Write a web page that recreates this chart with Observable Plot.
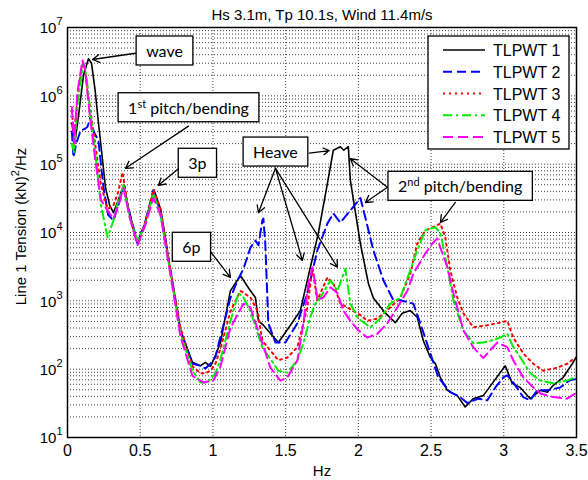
<!DOCTYPE html>
<html><head><meta charset="utf-8">
<script src="https://cdn.jsdelivr.net/npm/d3@7"></script>
<script src="https://cdn.jsdelivr.net/npm/@observablehq/plot@0.6"></script>
<style>
body{margin:0;background:#fff;}
#chart{width:588px;height:480px;}
</style>
</head><body><div id="chart"></div>
<script>
// ---------------- data ----------------
const seriesNames = ["TLPWT 1","TLPWT 2","TLPWT 3","TLPWT 4","TLPWT 5"];

const freq1 = [0.03,0.05,0.08,0.11,0.144,0.165,0.19,0.213,0.24,0.261,0.29,0.316,0.35,0.385,0.43,0.481,0.53,0.57,0.595,0.64,0.708,0.777,0.859,0.914,0.948,0.983,1.017,1.052,1.12,1.189,1.258,1.292,1.313,1.347,1.45,1.533,1.601,1.67,1.725,1.787,1.828,1.876,1.90,1.931,1.945,2.014,2.069,2.103,2.186,2.254,2.302,2.357,2.405,2.447,2.495,2.53,2.564,2.612,2.68,2.735,2.79,2.859,2.921,3.01,3.058,3.113,3.182,3.251,3.30,3.34,3.409,3.471,3.498];
const tension1 = [4e5,2e5,6e5,2e6,3.5e6,3e6,1.2e6,4e5,1.2e5,4.6e4,2.5e4,1.95e4,3e4,4.9e4,1.8e4,7.1e3,1.3e4,2.6e4,4.2e4,2.2e4,2.8e3,370,126,112,126,110,158,245,1400,2350,1400,1120,510,440,245,440,720,3100,9800,5.2e4,1.6e5,1.8e5,1.6e5,1.8e5,5.8e4,6900,1800,1100,660,480,660,720,575,260,148,120,75,49,41,28,37,41,62,112,62,54,37,49,46,58,76,120,150];

const freq2 = [0.03,0.041,0.06,0.09,0.12,0.137,0.158,0.18,0.213,0.247,0.28,0.316,0.35,0.385,0.43,0.481,0.53,0.591,0.64,0.708,0.777,0.859,0.914,0.948,0.983,1.017,1.052,1.12,1.17,1.21,1.258,1.292,1.313,1.34,1.347,1.36,1.375,1.381,1.43,1.498,1.581,1.649,1.718,1.787,1.828,1.876,1.945,1.98,2.014,2.048,2.103,2.172,2.241,2.289,2.378,2.426,2.495,2.55,2.632,2.701,2.749,2.825,2.887,2.942,2.997,3.024,3.065,3.134,3.182,3.23,3.299,3.388,3.45,3.498];
const tension2 = [3e5,1.26e5,2e5,3.1e5,3.3e5,3.5e5,4.9e5,3e5,2.2e5,4.6e4,1.8e4,1.5e4,2.5e4,4.6e4,1.8e4,7.1e3,1.3e4,4.2e4,2e4,2.8e3,370,120,112,102,120,150,300,1100,2000,2950,6000,7600,6500,1.5e4,1.6e4,6900,1020,470,245,245,470,1300,5500,1.35e4,1.9e4,1.4e4,2.1e4,2.6e4,3.2e4,1.66e4,5500,2000,1020,1020,910,470,170,76,46,39,32,37,35,54,76,81,64,39,35,49,49,54,68,72];

const freq3 = [0.03,0.045,0.07,0.103,0.12,0.15,0.19,0.23,0.275,0.316,0.35,0.378,0.40,0.43,0.481,0.53,0.591,0.64,0.708,0.777,0.859,0.914,0.948,0.983,1.017,1.052,1.12,1.189,1.258,1.306,1.34,1.45,1.512,1.581,1.649,1.684,1.718,1.787,1.828,1.876,1.924,2.014,2.062,2.131,2.22,2.289,2.357,2.405,2.46,2.495,2.564,2.598,2.632,2.68,2.722,2.79,2.887,2.976,3.024,3.065,3.134,3.203,3.271,3.368,3.436,3.491];
const tension3 = [6e5,2.5e5,1e6,3.1e6,2.5e6,8e5,2e5,5e4,2.2e4,2.5e4,4e4,7.6e4,4e4,1.6e4,7.1e3,1.3e4,4.2e4,2.2e4,2.8e3,400,110,87,87,95,120,200,700,1400,1120,720,260,135,148,210,800,2950,1020,2200,1800,910,800,620,510,550,800,1120,2500,6900,1.07e4,1.15e4,1.35e4,8500,2800,1120,660,410,440,480,510,290,170,120,95,105,120,148];

const freq4 = [0.03,0.045,0.07,0.11,0.13,0.16,0.19,0.23,0.275,0.316,0.35,0.385,0.43,0.481,0.53,0.591,0.64,0.708,0.777,0.859,0.914,0.962,1.017,1.052,1.12,1.175,1.21,1.258,1.34,1.45,1.512,1.581,1.622,1.67,1.704,1.739,1.808,1.856,1.911,1.945,1.979,2.0,2.082,2.151,2.22,2.289,2.357,2.405,2.46,2.529,2.564,2.612,2.653,2.722,2.79,2.859,2.907,2.976,3.024,3.065,3.113,3.182,3.251,3.34,3.436,3.491];
const tension4 = [2e5,1.5e5,8e5,3e6,2e6,5e5,1.5e5,2.5e4,8.5e3,1.5e4,3e4,4.9e4,1.6e4,7.6e3,1.2e4,3.7e4,1.8e4,2.5e3,330,95,64,64,87,140,500,1300,1120,700,210,95,89,135,240,580,910,1120,2000,1400,2950,910,660,550,410,550,910,1120,2800,5500,1.07e4,1.2e4,9800,3100,1020,370,240,245,260,290,330,210,150,87,68,62,68,76];

const freq5 = [0.03,0.045,0.07,0.103,0.12,0.15,0.19,0.23,0.275,0.316,0.35,0.385,0.43,0.481,0.53,0.591,0.64,0.708,0.777,0.859,0.935,1.003,1.052,1.12,1.21,1.258,1.34,1.395,1.464,1.512,1.581,1.622,1.656,1.684,1.704,1.718,1.759,1.808,1.856,1.897,1.945,2.0,2.062,2.131,2.199,2.268,2.337,2.378,2.46,2.509,2.543,2.564,2.612,2.653,2.722,2.79,2.859,2.907,2.955,3.024,3.065,3.134,3.203,3.251,3.34,3.436,3.491];
const tension5 = [6.8e5,2e5,1.2e6,3.3e6,2.5e6,6e5,1.2e5,3e4,2.1e4,1.6e4,2.5e4,4.5e4,1.6e4,6.5e3,1.2e4,3.2e4,1.8e4,2.4e3,300,80,64,68,110,400,910,800,240,105,68,76,135,470,1800,3100,1800,1020,1120,1580,1300,720,510,370,290,330,470,800,1400,2500,4900,6900,8200,6000,3100,1300,370,210,145,190,245,210,135,76,54,44,39,37,44];

const xTicks = [0,0.5,1,1.5,2,2.5,3,3.5];
const xTickLabels = ["0","0.5","1","1.5","2","2.5","3","3.5"];
const yDecades = [10,100,1e3,1e4,1e5,1e6,1e7];
const yTickLabels = ["10^{1}","10^{2}","10^{3}","10^{4}","10^{5}","10^{6}","10^{7}"];

const titleText = "Hs 3.1m, Tp 10.1s, Wind 11.4m/s";
const xLabel = "Hz";
const yLabel = "Line 1 Tension (kN)^{2}/Hz";

// annotation boxes (anchored in data coordinates)
const annText = ["wave","1^{st} pitch/bending","3p","Heave","6p","2^{nd} pitch/bending"];
const annFreq = [0.667,0.832,0.893,1.43,0.852,2.70];
const annTension = [4.4e6,6.5e5,1e5,1.46e5,5.9e3,4.6e4];
// annotation arrows (tail -> head)
const arrowFreq1 = [0.467,0.832,0.79,1.43,1.43,1.43,1.663,0.976,2.2,2.2,2.667];
const arrowTension1 = [4.2e6,3.6e5,9.6e4,8.7e4,8.7e4,8.7e4,1.45e5,5.5e3,4.6e4,4.6e4,2.75e4];
const arrowFreq2 = [0.172,0.399,0.625,1.313,1.615,1.856,1.80,1.12,1.945,2.048,2.564];
const arrowTension2 = [3.4e6,8.7e4,4.9e4,1.95e4,3.9e3,3.1e3,1.58e5,2.2e3,1.2e5,2.75e4,1.4e4];

// ---------------- styles ----------------
const styles = [
  {stroke:"#000000", strokeWidth:1.6, dash:null},
  {stroke:"#0000ff", strokeWidth:2, dash:"9,5"},
  {stroke:"#ff0000", strokeWidth:2, dash:"2,4"},
  {stroke:"#00ee00", strokeWidth:2, dash:"9,4,2,4"},
  {stroke:"#ff00ff", strokeWidth:2, dash:"10,5"}
];

const freqs = [freq1,freq2,freq3,freq4,freq5];
const tensions = [tension1,tension2,tension3,tension4,tension5];
const seriesData = freqs.map((fs,k)=>fs.map((f,i)=>({f, v: tensions[k][i]})));
const annData = annText.map((t,i)=>({t, f: annFreq[i], v: annTension[i]}));
const arrowData = arrowFreq1.map((f,i)=>({f1:f, v1:arrowTension1[i], f2:arrowFreq2[i], v2:arrowTension2[i]}));
const minorTicks = d3.scaleLog().domain([10,1e7]).ticks();
const yTickData = yDecades.map((v,i)=>({v, label: yTickLabels[i]}));

const FONT = "'Liberation Sans', Arial, sans-serif";

const plot = Plot.plot({
  width: 588, height: 480,
  marginLeft: 67, marginRight: 12, marginTop: 27, marginBottom: 43,
  style: {fontFamily: FONT, fontSize: "16px", color: "#000", background: "#fff", overflow: "visible"},
  x: {domain: [0, 3.5], axis: null},
  y: {type: "log", domain: [10, 1e7], axis: null},
  marks: [
    Plot.gridY(minorTicks, {stroke: "#000", strokeOpacity: 0.75, strokeDasharray: "1,2", strokeWidth: 1}),
    Plot.gridX(xTicks, {stroke: "#000", strokeOpacity: 0.75, strokeDasharray: "1,2", strokeWidth: 1}),
    ...seriesData.map((d,k)=>Plot.line(d, {x:"f", y:"v", stroke: styles[k].stroke, strokeWidth: styles[k].strokeWidth, strokeDasharray: styles[k].dash, strokeLinejoin:"round"})),
    Plot.frame({stroke: "#000", strokeWidth: 1.5}),
    Plot.text(xTicks, {x: d=>d, text: (d,i)=>xTickLabels[i], frameAnchor:"bottom", dy:13, fontSize:16, lineAnchor:"middle"}),
    Plot.text(yTickData, {y:"v", text:"label", frameAnchor:"left", textAnchor:"end", dx:-5, dy:1, fontSize:15, lineAnchor:"middle", ariaDescription:"ytick"}),
    Plot.arrow(arrowData, {x1:"f1", y1:"v1", x2:"f2", y2:"v2", stroke:"#000", strokeWidth:1.3, headLength:9}),
    Plot.text(annData, {x:"f", y:"v", text:"t", fontSize:16, fontFamily:"Lato, 'Open Sans', sans-serif", textAnchor:"middle", lineAnchor:"middle", fill:"#000", ariaDescription:"annot"}),
    Plot.text([titleText], {text: d=>d, frameAnchor:"top", dy:-12, fontSize:15, lineAnchor:"middle"}),
    Plot.text([xLabel], {text: d=>d, frameAnchor:"bottom", dy:34, fontSize:15, lineAnchor:"middle"}),
    Plot.text([yLabel], {text: d=>d, frameAnchor:"left", textAnchor:"middle", dx:-46, dy:-6, rotate:-90, fontSize:15, lineAnchor:"middle", ariaDescription:"ylabel"})
  ]
});
document.getElementById("chart").appendChild(plot);

// ---------- post-processing: superscripts, boxes, legend ----------
const NS = "http://www.w3.org/2000/svg";
function supify(el, supSize, shift) {
  const raw = el.textContent;
  if (!raw.includes("^{")) return;
  const parts = raw.split(/(\^\{[^}]*\})/).filter(s => s.length);
  el.textContent = "";
  let raised = false;
  parts.forEach(p => {
    const ts = document.createElementNS(NS, "tspan");
    if (p.startsWith("^{")) {
      ts.textContent = p.slice(2, -1);
      ts.setAttribute("font-size", supSize);
      ts.setAttribute("dy", -shift);
      raised = true;
    } else {
      ts.textContent = p;
      if (raised) { ts.setAttribute("dy", shift); raised = false; }
    }
    el.appendChild(ts);
  });
}
const svg = d3.select(plot.tagName.toLowerCase() === "svg" ? plot : plot.querySelector("svg"));

svg.selectAll('g[aria-description="ytick"] text').each(function(){ supify(this, 11, 8); });
svg.selectAll('g[aria-description="ylabel"] text').each(function(){ supify(this, 11, 7); });
svg.selectAll('g[aria-description="annot"] text').each(function(){
  supify(this, 11, 6);
  const bb = this.getBBox();
  const padX = 10, h = 29;
  const bottom = bb.y + bb.height + 5;
  const r = document.createElementNS(NS, "rect");
  r.setAttribute("x", bb.x - padX);
  r.setAttribute("y", bottom - h);
  r.setAttribute("width", bb.width + 2*padX);
  r.setAttribute("height", h);
  r.setAttribute("fill", "#fff");
  r.setAttribute("stroke", "#000");
  r.setAttribute("stroke-width", 1.3);
  const tr = this.getAttribute("transform");
  if (tr) r.setAttribute("transform", tr);
  this.parentNode.insertBefore(r, this);
});

// legend
const lg = svg.append("g").attr("text-anchor","start");
lg.append("rect").attr("x",428).attr("y",36).attr("width",141).attr("height",113)
  .attr("fill","#fff").attr("stroke","#000").attr("stroke-width",1.3);
seriesNames.forEach((n,i)=>{
  const y = 50 + i*21.75;
  lg.append("line").attr("x1",443).attr("x2",485).attr("y1",y).attr("y2",y)
    .attr("stroke",styles[i].stroke).attr("stroke-width",styles[i].strokeWidth)
    .attr("stroke-dasharray",styles[i].dash);
  lg.append("text").attr("x",493).attr("y",y+6).attr("font-size",16)
    .attr("text-anchor","start")
    .attr("font-family",FONT).attr("fill","#000").text(n);
});
</script>
</body></html>
